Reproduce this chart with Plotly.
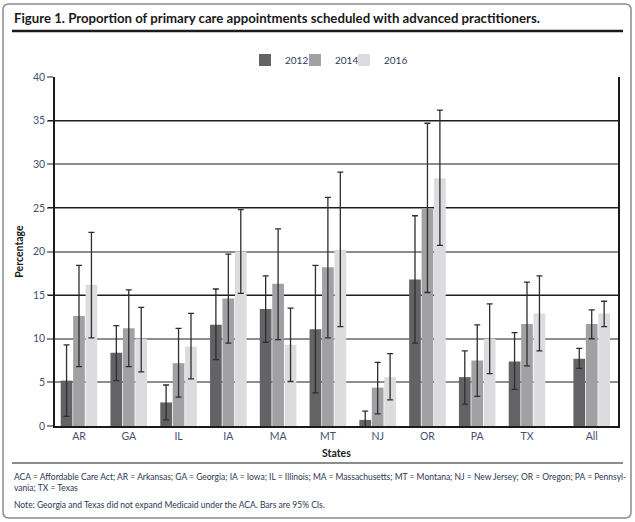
import plotly.graph_objects as go

# ---------------- data ----------------
states = ["AR", "GA", "IL", "IA", "MA", "MT", "NJ", "OR", "PA", "TX", "All"]
years = ["2012", "2014", "2016"]

v2012 = [5.2, 8.4, 2.7, 11.6, 13.4, 11.1, 0.7, 16.8, 5.6, 7.4, 7.7]
lo2012 = [1.1, 5.2, 0.7, 7.6, 9.6, 3.8, -0.2, 9.5, 2.5, 4.2, 6.6]
hi2012 = [9.3, 11.5, 4.7, 15.7, 17.2, 18.4, 1.7, 24.1, 8.6, 10.7, 8.9]

v2014 = [12.6, 11.2, 7.2, 14.6, 16.3, 18.2, 4.4, 25.0, 7.5, 11.7, 11.7]
lo2014 = [6.8, 6.8, 3.3, 9.5, 9.9, 10.1, 1.4, 15.3, 3.4, 6.9, 10.0]
hi2014 = [18.4, 15.6, 11.2, 19.7, 22.6, 26.2, 7.3, 34.7, 11.6, 16.5, 13.3]

v2016 = [16.2, 10.0, 9.1, 20.0, 9.3, 20.2, 5.6, 28.4, 10.0, 12.9, 12.9]
lo2016 = [10.1, 6.2, 5.4, 15.2, 5.1, 11.4, 3.0, 20.7, 6.0, 8.6, 11.4]
hi2016 = [22.2, 13.6, 12.9, 24.8, 13.5, 29.1, 8.3, 36.2, 14.0, 17.2, 14.3]

y_ticks = [0, 5, 10, 15, 20, 25, 30, 35, 40]

title_text = "Figure 1. Proportion of primary care appointments scheduled with advanced practitioners."
foot1 = ("ACA = Affordable Care Act; AR = Arkansas; GA = Georgia; IA = Iowa; IL = Illinois; "
         "MA = Massachusetts; MT = Montana; NJ = New Jersey; OR = Oregon; PA = Pennsyl-<br>vania; TX = Texas")
foot2 = "Note: Georgia and Texas did not expand Medicaid under the ACA. Bars are 95% CIs."

# ---------------- style ----------------
W, H = 635, 522
ML, MR, MT_, MB = 55, 17, 77, 96
PW, PH = W - ML - MR, H - MT_ - MB
FONT = "Lato, DejaVu Sans Condensed, sans-serif"
TICKC = "#46506e"
colors = ["#636365", "#a1a1a4", "#dcdcde"]
legend_left_px = [245, 295, 344]


def px(x):
    return (x - ML) / PW


def py(y):
    return (H - MB - y) / PH


# extra gap before the "All" group
xpos = [i + (0.3 if s == "All" else 0) for i, s in enumerate(states)]

fig = go.Figure()
legend_ids = ["legend", "legend2", "legend3"]
for name, vals, lo, hi, col, lid in zip(years, [v2012, v2014, v2016], [lo2012, lo2014, lo2016],
                                        [hi2012, hi2014, hi2016], colors, legend_ids):
    fig.add_trace(go.Bar(
        x=xpos, y=vals, name=name, legend=lid,
        marker=dict(color=col, line=dict(width=0)),
        error_y=dict(type="data", symmetric=False,
                     array=[h - v for h, v in zip(hi, vals)],
                     arrayminus=[v - l for v, l in zip(vals, lo)],
                     color="#2e2e2e", thickness=1.3, width=3),
    ))

# overlay axis used only to draw darker gridlines at 15/25/35
fig.add_trace(go.Scatter(x=[xpos[0]], y=[0], yaxis="y2", mode="markers",
                         marker=dict(opacity=0), showlegend=False, hoverinfo="skip"))

leg_common = dict(orientation="h", xanchor="left", y=py(60), yanchor="middle",
                  font=dict(family=FONT, size=10, color="#333a55"),
                  itemwidth=30, bgcolor="rgba(0,0,0,0)", borderwidth=0)

fig.update_layout(
    width=W, height=H, margin=dict(l=ML, r=MR, t=MT_, b=MB),
    paper_bgcolor="white", plot_bgcolor="white",
    barmode="group", bargap=0.25, bargroupgap=0.06,
    font=dict(family=FONT, size=10, color=TICKC),
    showlegend=True,
    legend=dict(x=px(legend_left_px[0]), **leg_common),
    legend2=dict(x=px(legend_left_px[1]), **leg_common),
    legend3=dict(x=px(legend_left_px[2]), **leg_common),
    xaxis=dict(range=[-0.482, 10.828], tickvals=xpos, ticktext=states,
               showgrid=False, zeroline=False, showline=True, linecolor="#1a1a1a",
               linewidth=1.5, ticks="", tickfont=dict(size=10.5, color=TICKC, family=FONT)),
    yaxis=dict(range=[0, 40], tickvals=y_ticks, showgrid=True, gridcolor="#8e8e8e",
               gridwidth=1.8, zeroline=False, showline=True, mirror=True,
               linecolor="#1a1a1a", linewidth=1.5, ticks="outside", ticklen=6,
               tickcolor="#8e8e8e", tickwidth=1.5,
               tickfont=dict(size=10.5, color=TICKC, family=FONT),
               title=dict(text="<b>Percentage</b>", standoff=7,
                          font=dict(size=10.5, color="#1a1a1a", family=FONT))),
    yaxis2=dict(range=[0, 40], overlaying="y", side="left", tickvals=[15, 25, 35],
                showgrid=True, gridcolor="#1e1e1e", gridwidth=1.3, showticklabels=False,
                ticks="outside", ticklen=6, tickcolor="#1e1e1e", tickwidth=1.3,
                zeroline=False, showline=False),
)

shapes = [
    # outer rounded frame
    dict(type="path", xref="paper", yref="paper",
         path=(f"M {px(9)} {py(4)} L {px(625)} {py(4)} Q {px(631)} {py(4)} {px(631)} {py(10)} "
               f"L {px(631)} {py(512)} Q {px(631)} {py(518)} {px(625)} {py(518)} "
               f"L {px(9)} {py(518)} Q {px(3)} {py(518)} {px(3)} {py(512)} "
               f"L {px(3)} {py(10)} Q {px(3)} {py(4)} {px(9)} {py(4)} Z"),
         line=dict(color="#8a8a8a", width=1.5), layer="below"),
    # title rule
    dict(type="line", xref="paper", yref="paper", x0=px(12), x1=px(623), y0=py(31), y1=py(31),
         line=dict(color="#1a1a1a", width=2.6)),
    # footer rule
    dict(type="line", xref="paper", yref="paper", x0=px(12), x1=px(623), y0=py(463), y1=py(463),
         line=dict(color="#1a1a1a", width=1)),
]
fig.update_layout(shapes=shapes)

annotations = [
    dict(text=f"<b>{title_text}</b>", x=px(12), y=py(18), xref="paper", yref="paper",
         xanchor="left", yanchor="middle", showarrow=False,
         font=dict(family=FONT, size=13.2, color="#1a1a1a")),
    dict(text="<b>States</b>", x=px(336), y=py(453), xref="paper", yref="paper",
         xanchor="center", yanchor="middle", showarrow=False,
         font=dict(family=FONT, size=10.5, color="#1a1a1a")),
    dict(text=foot1, x=px(12), y=py(470), xref="paper", yref="paper", align="left",
         xanchor="left", yanchor="top", showarrow=False,
         font=dict(family=FONT, size=8.5, color="#2d3550")),
    dict(text=foot2, x=px(12), y=py(498), xref="paper", yref="paper", align="left",
         xanchor="left", yanchor="top", showarrow=False,
         font=dict(family=FONT, size=8.5, color="#2d3550")),
]
fig.update_layout(annotations=annotations)

fig.write_html("out.html")
